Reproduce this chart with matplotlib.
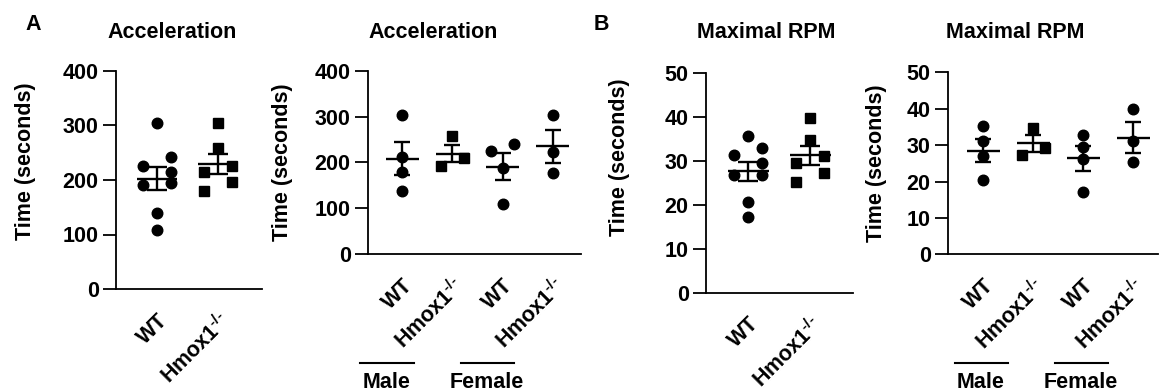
import numpy as np
import matplotlib
matplotlib.use('Agg')
import matplotlib.pyplot as plt
from matplotlib.transforms import blended_transform_factory

plt.rcParams['font.family'] = ['Liberation Sans', 'DejaVu Sans']
plt.rcParams['font.weight'] = 'bold'
plt.rcParams['axes.labelweight'] = 'bold'
plt.rcParams['mathtext.fontset'] = 'custom'
plt.rcParams['mathtext.rm'] = 'Liberation Sans'
plt.rcParams['mathtext.default'] = 'rm'

# dados
acc_wt = [305, 243, 226, 215, 194, 190, 139, 109]
acc_ko = [305, 259, 226, 214, 196, 180]
acc_wt_m = [304, 213, 179, 137]
acc_ko_m = [257, 209, 193]
acc_wt_f = [240, 226, 188, 110]
acc_ko_f = [304, 224, 177]

rpm_wt = [35.5, 32.8, 31.3, 29.5, 26.7, 26.7, 20.7, 17.3]
rpm_ko = [39.8, 34.7, 31.1, 29.4, 27.3, 25.2]
rpm_wt_m = [35.3, 31.2, 27.0, 20.4]
rpm_ko_m = [34.8, 29.3, 27.3]
rpm_wt_f = [32.8, 29.4, 26.1, 17.0]
rpm_ko_f = [39.8, 31.0, 25.3]

genotipos = ['WT', r'Hmox1$^{\text{-/-}}$']
sexos = ['Male', 'Female']
titulos = ['Acceleration', 'Acceleration', 'Maximal RPM', 'Maximal RPM']
ylabel = 'Time (seconds)'
acc_ticks = [0, 100, 200, 300, 400]
rpm_ticks = [0, 10, 20, 30, 40, 50]

FS = 15.5
W, H = 1160, 391
fig = plt.figure(figsize=(W / 100, H / 100), dpi=100)


def caixa(l, r, top, bot):
    return [l / W, 1 - bot / H, (r - l) / W, (bot - top) / H]


def swarm(vals, passo, px_por_unid, limiar=11):
    # agrupa pontos proximos (em pixels) e alterna direita/esquerda
    ordem = np.argsort(vals)[::-1]
    offs = np.zeros(len(vals))
    grupos = []
    atual = [ordem[0]]
    for a, b in zip(ordem[:-1], ordem[1:]):
        if (vals[a] - vals[b]) * px_por_unid < limiar:
            atual.append(b)
        else:
            grupos.append(atual)
            atual = [b]
    grupos.append(atual)
    for g in grupos:
        if len(g) == 1:
            continue
        for k, idx in enumerate(g):
            offs[idx] = passo if k % 2 == 0 else -passo
    return offs


def painel(pos, xlim, grupos, marcadores, yticks, titulo_x, titulo, ylab_xy):
    ax = fig.add_axes(caixa(*pos))
    ymax = yticks[-1]
    ax.set_ylim(0, ymax)
    ax.set_xlim(*xlim)
    px_por_unid = (pos[3] - pos[2]) / ymax
    for i, (vals, m) in enumerate(zip(grupos, marcadores)):
        vals = np.array(vals, dtype=float)
        offs = swarm(vals, 0.23, px_por_unid)
        ax.plot(i + offs, vals, m, color='black', markersize=7.6, clip_on=False, zorder=3)
        media = vals.mean()
        sem = vals.std(ddof=1) / np.sqrt(len(vals))
        ax.hlines(media, i - 0.33, i + 0.33, color='black', lw=1.7, zorder=4)
        ax.hlines([media - sem, media + sem], i - 0.16, i + 0.16, color='black', lw=1.7, zorder=4)
        ax.vlines(i, media - sem, media + sem, color='black', lw=1.7, zorder=4)
    for s in ['top', 'right']:
        ax.spines[s].set_visible(False)
    for s in ['left', 'bottom']:
        ax.spines[s].set_linewidth(1.3)
    ax.set_yticks(yticks)
    ax.set_yticklabels([str(t) for t in yticks], fontsize=FS, fontweight='bold')
    ax.tick_params(axis='y', length=9.5, width=1.3, pad=3)
    ax.tick_params(axis='x', length=0, pad=15)
    n = len(grupos)
    ax.set_xticks(range(n))
    ax.set_xticklabels([genotipos[i % 2] for i in range(n)], rotation=45, ha='right',
                       rotation_mode='anchor', fontsize=FS, fontweight='bold')
    ax.set_ylabel(ylabel, fontsize=FS, fontweight='bold')
    ax.yaxis.set_label_coords(*ylab_xy)
    fig.text(titulo_x / W, 1 - 32 / H, titulo, ha='center', va='center', fontsize=FS,
             fontweight='bold')
    return ax


def sexo(ax, desloc):
    tr = blended_transform_factory(ax.transData, ax.transAxes)
    alt = ax.get_position().height * H
    topo = H - ax.get_position().y1 * H
    y_linha = 1 - (363 - topo) / alt
    y_txt = 1 - (382 - topo) / alt
    for k, nome in enumerate(sexos):
        c = 2 * k + desloc
        ax.plot([c - 0.53, c + 0.53], [y_linha, y_linha], color='black', lw=1.5,
                transform=tr, clip_on=False)
        ax.text(c - 0.02, y_txt, nome, transform=tr, ha='center', va='center', fontsize=FS,
                fontweight='bold')


ax1 = painel((116, 262, 71, 289), (-0.67, 1.72), [acc_wt, acc_ko], ['o', 's'],
             acc_ticks, 172, titulos[0], (-0.55, 0.585))
ax2 = painel((368, 581, 71, 254), (-0.68, 3.56), [acc_wt_m, acc_ko_m, acc_wt_f, acc_ko_f],
             ['o', 's', 'o', 'o'], acc_ticks, 433, titulos[1], (-0.35, 0.5))
ax3 = painel((706, 853, 72.7, 292.7), (-0.68, 1.69), [rpm_wt, rpm_ko], ['o', 's'],
             rpm_ticks, 766, titulos[2], (-0.52, 0.615))
ax4 = painel((948, 1158, 72.3, 254.3), (-0.7, 3.5), [rpm_wt_m, rpm_ko_m, rpm_wt_f, rpm_ko_f],
             ['o', 's', 'o', 'o'], rpm_ticks, 1015, titulos[3], (-0.29, 0.5))

sexo(ax2, -0.3)
sexo(ax4, -0.03)

fig.text(33 / W, 1 - 25 / H, 'A', ha='center', va='center', fontsize=FS, fontweight='bold')
fig.text(601 / W, 1 - 25 / H, 'B', ha='center', va='center', fontsize=FS, fontweight='bold')

fig.savefig('out.png', dpi=100)
